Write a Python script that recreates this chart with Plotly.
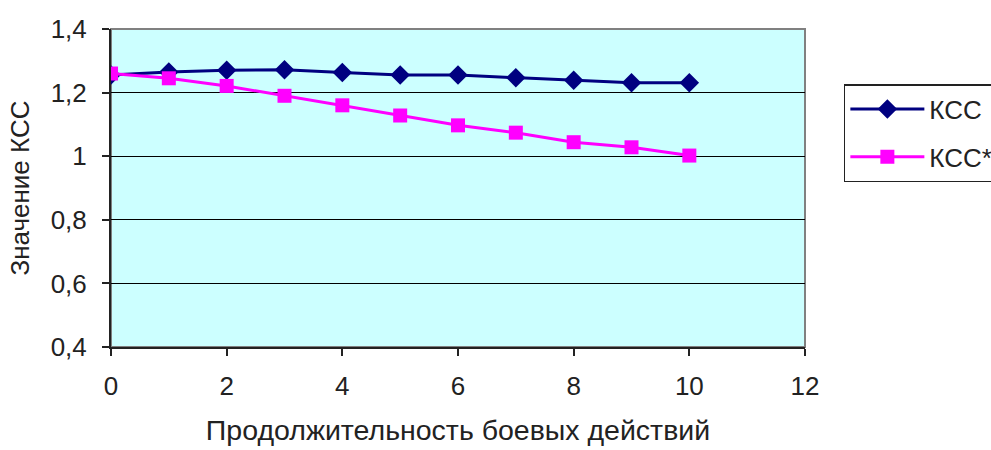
import plotly.graph_objects as go

x_vals = [0, 1, 2, 3, 4, 5, 6, 7, 8, 9, 10]
kcc = [1.255, 1.265, 1.27, 1.272, 1.263, 1.255, 1.255, 1.247, 1.239, 1.231, 1.231]
kcc_star = [1.26, 1.245, 1.221, 1.19, 1.16, 1.128, 1.097, 1.074, 1.044, 1.028, 1.002]
series_names = ["КСС", "КСС*"]
y_ticks = [0.4, 0.6, 0.8, 1.0, 1.2, 1.4]
y_tick_labels = ["0,4", "0,6", "0,8", "1", "1,2", "1,4"]
x_ticks = [0, 2, 4, 6, 8, 10, 12]

FONT = "Liberation Sans, Arial, sans-serif"
TXT = "#222222"

fig = go.Figure()
fig.add_trace(go.Scatter(
    x=x_vals, y=kcc, name=series_names[0], mode="lines+markers",
    line=dict(color="#000080", width=3),
    marker=dict(symbol="diamond", size=15, color="#000080"),
    legendgroup="a",
))
fig.add_trace(go.Scatter(
    x=x_vals, y=kcc_star, name=series_names[1], mode="lines+markers",
    line=dict(color="#FF00FF", width=3),
    marker=dict(symbol="square", size=14, color="#FF00FF"),
    legendgroup="b",
))

fig.update_layout(
    width=991, height=450,
    margin=dict(l=111, r=186, t=29, b=103, autoexpand=False),
    paper_bgcolor="white",
    plot_bgcolor="#CCFFFF",
    font=dict(family=FONT, size=26, color=TXT),
    legend=dict(
        x=1.056, y=0.827, xanchor="left", yanchor="top",
        bordercolor=TXT, borderwidth=1.5,
        bgcolor="white",
        font=dict(family=FONT, size=26, color=TXT),
        itemwidth=74,
        traceorder="grouped",
        tracegroupgap=11,
    ),
    xaxis=dict(
        range=[0, 12], tickvals=x_ticks,
        showgrid=False, zeroline=False,
        showline=True, linecolor=TXT, linewidth=2,
        ticks="outside", ticklen=7, tickcolor=TXT, tickwidth=1.5,
        ticklabelstandoff=8,
        tickfont=dict(size=26),
        title=dict(text="Продолжительность боевых действий", font=dict(size=28.5), standoff=20),
    ),
    yaxis=dict(
        range=[0.4, 1.4], tickvals=y_ticks, ticktext=y_tick_labels,
        showgrid=True, gridcolor="#000000", gridwidth=1,
        zeroline=False,
        showline=True, linecolor=TXT, linewidth=2,
        ticks="outside", ticklen=7, tickcolor=TXT, tickwidth=1.5,
        ticklabelstandoff=10,
        tickfont=dict(size=26),
        title=dict(text="Значение КСС", font=dict(size=26), standoff=14),
    ),
    showlegend=True,
)

fig.add_shape(type="rect", xref="paper", yref="paper", x0=0, y0=0, x1=1, y1=1,
              line=dict(color="#808080", width=2), layer="below")

fig.write_html("out.html")
